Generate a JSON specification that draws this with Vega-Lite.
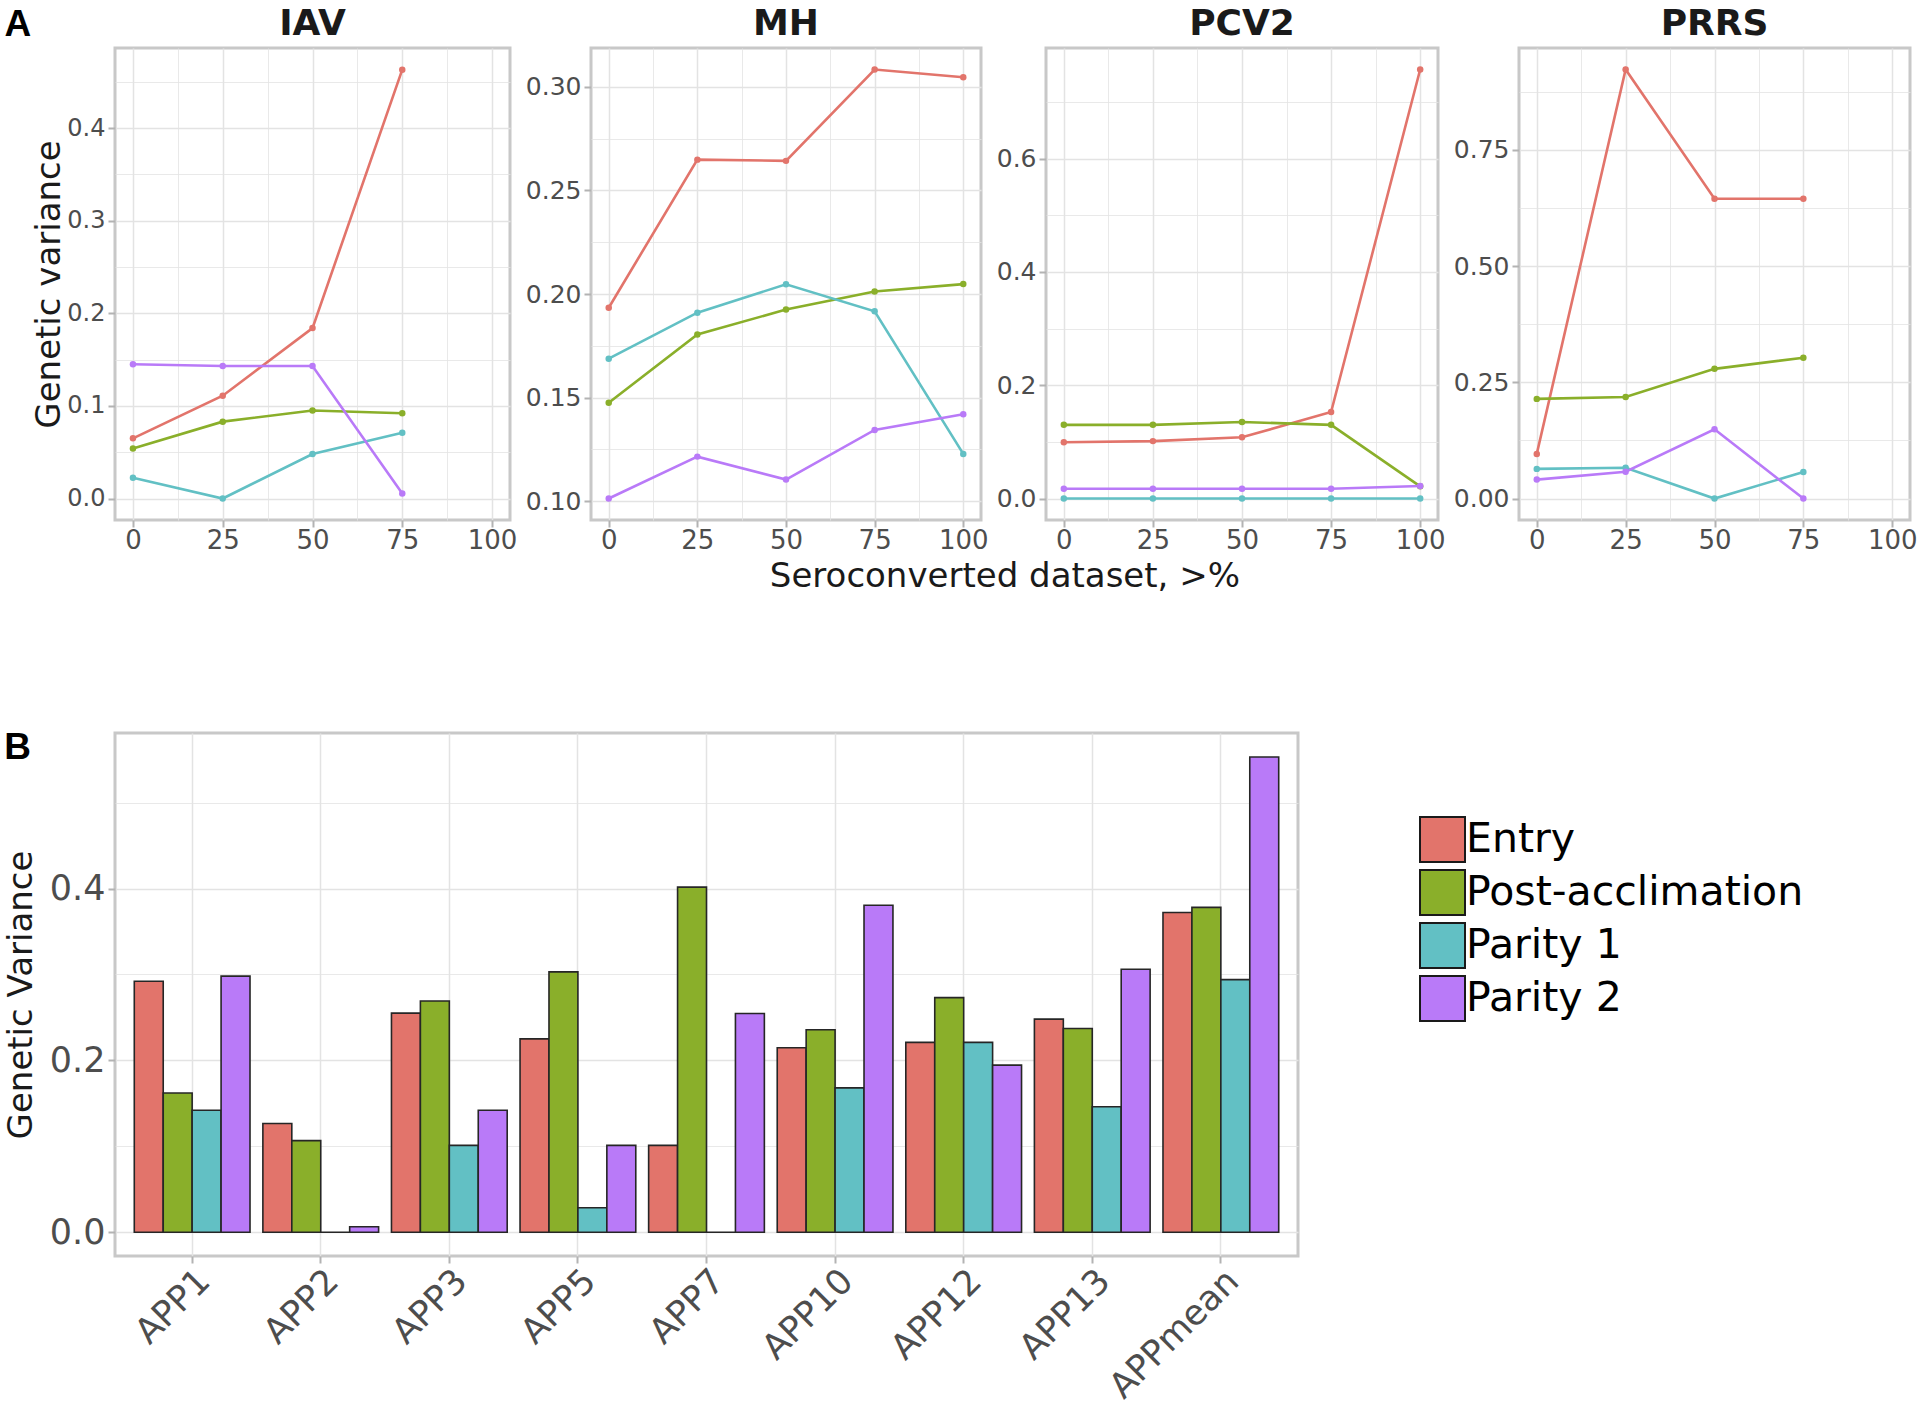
{
  "$schema": "https://vega.github.io/schema/vega-lite/v6.json",
  "background": "white",
  "padding": {"left": 2, "top": 4, "right": 0, "bottom": 0},
  "config": {
    "font": "DejaVu Sans",
    "view": {"stroke": "#C8C8C8", "strokeWidth": 3},
    "axis": {
      "domain": false,
      "tickColor": "#B3B3B3",
      "tickWidth": 2,
      "tickSize": 7,
      "labelColor": "#4D4D4D",
      "labelPadding": 3,
      "labelOverlap": false,
      "labelFlush": false,
      "titleColor": "#1A1A1A",
      "titleFontWeight": "normal",
      "gridColor": "#E3E3E3"
    },
    "title": {"color": "#1A1A1A"}
  },
  "datasets": {
    "lines": [
      {"panel": "IAV", "pct": 0, "stage": "Entry", "gv": 0.065},
      {"panel": "IAV", "pct": 25, "stage": "Entry", "gv": 0.111},
      {"panel": "IAV", "pct": 50, "stage": "Entry", "gv": 0.184},
      {"panel": "IAV", "pct": 75, "stage": "Entry", "gv": 0.463},
      {"panel": "IAV", "pct": 0, "stage": "Post-acclimation", "gv": 0.054},
      {"panel": "IAV", "pct": 25, "stage": "Post-acclimation", "gv": 0.083},
      {"panel": "IAV", "pct": 50, "stage": "Post-acclimation", "gv": 0.095},
      {"panel": "IAV", "pct": 75, "stage": "Post-acclimation", "gv": 0.092},
      {"panel": "IAV", "pct": 0, "stage": "Parity 1", "gv": 0.0225},
      {"panel": "IAV", "pct": 25, "stage": "Parity 1", "gv": 0.0},
      {"panel": "IAV", "pct": 50, "stage": "Parity 1", "gv": 0.048},
      {"panel": "IAV", "pct": 75, "stage": "Parity 1", "gv": 0.071},
      {"panel": "IAV", "pct": 0, "stage": "Parity 2", "gv": 0.145},
      {"panel": "IAV", "pct": 25, "stage": "Parity 2", "gv": 0.143},
      {"panel": "IAV", "pct": 50, "stage": "Parity 2", "gv": 0.143},
      {"panel": "IAV", "pct": 75, "stage": "Parity 2", "gv": 0.0055},
      {"panel": "MH", "pct": 0, "stage": "Entry", "gv": 0.1934},
      {"panel": "MH", "pct": 25, "stage": "Entry", "gv": 0.2649},
      {"panel": "MH", "pct": 50, "stage": "Entry", "gv": 0.2643},
      {"panel": "MH", "pct": 75, "stage": "Entry", "gv": 0.3084},
      {"panel": "MH", "pct": 100, "stage": "Entry", "gv": 0.3047},
      {"panel": "MH", "pct": 0, "stage": "Post-acclimation", "gv": 0.1475},
      {"panel": "MH", "pct": 25, "stage": "Post-acclimation", "gv": 0.1805},
      {"panel": "MH", "pct": 50, "stage": "Post-acclimation", "gv": 0.1925},
      {"panel": "MH", "pct": 75, "stage": "Post-acclimation", "gv": 0.2012},
      {"panel": "MH", "pct": 100, "stage": "Post-acclimation", "gv": 0.2048},
      {"panel": "MH", "pct": 0, "stage": "Parity 1", "gv": 0.1688},
      {"panel": "MH", "pct": 25, "stage": "Parity 1", "gv": 0.191},
      {"panel": "MH", "pct": 50, "stage": "Parity 1", "gv": 0.2047},
      {"panel": "MH", "pct": 75, "stage": "Parity 1", "gv": 0.1917},
      {"panel": "MH", "pct": 100, "stage": "Parity 1", "gv": 0.1228},
      {"panel": "MH", "pct": 0, "stage": "Parity 2", "gv": 0.1013},
      {"panel": "MH", "pct": 25, "stage": "Parity 2", "gv": 0.1215},
      {"panel": "MH", "pct": 50, "stage": "Parity 2", "gv": 0.1104},
      {"panel": "MH", "pct": 75, "stage": "Parity 2", "gv": 0.1344},
      {"panel": "MH", "pct": 100, "stage": "Parity 2", "gv": 0.142},
      {"panel": "PCV2", "pct": 0, "stage": "Entry", "gv": 0.0992},
      {"panel": "PCV2", "pct": 25, "stage": "Entry", "gv": 0.1013},
      {"panel": "PCV2", "pct": 50, "stage": "Entry", "gv": 0.108},
      {"panel": "PCV2", "pct": 75, "stage": "Entry", "gv": 0.1526},
      {"panel": "PCV2", "pct": 100, "stage": "Entry", "gv": 0.757},
      {"panel": "PCV2", "pct": 0, "stage": "Post-acclimation", "gv": 0.130},
      {"panel": "PCV2", "pct": 25, "stage": "Post-acclimation", "gv": 0.130},
      {"panel": "PCV2", "pct": 50, "stage": "Post-acclimation", "gv": 0.135},
      {"panel": "PCV2", "pct": 75, "stage": "Post-acclimation", "gv": 0.130},
      {"panel": "PCV2", "pct": 100, "stage": "Post-acclimation", "gv": 0.0215},
      {"panel": "PCV2", "pct": 0, "stage": "Parity 1", "gv": 0.0},
      {"panel": "PCV2", "pct": 25, "stage": "Parity 1", "gv": 0.0},
      {"panel": "PCV2", "pct": 50, "stage": "Parity 1", "gv": 0.0},
      {"panel": "PCV2", "pct": 75, "stage": "Parity 1", "gv": 0.0},
      {"panel": "PCV2", "pct": 100, "stage": "Parity 1", "gv": 0.0},
      {"panel": "PCV2", "pct": 0, "stage": "Parity 2", "gv": 0.0173},
      {"panel": "PCV2", "pct": 25, "stage": "Parity 2", "gv": 0.0173},
      {"panel": "PCV2", "pct": 50, "stage": "Parity 2", "gv": 0.0173},
      {"panel": "PCV2", "pct": 75, "stage": "Parity 2", "gv": 0.0173},
      {"panel": "PCV2", "pct": 100, "stage": "Parity 2", "gv": 0.022},
      {"panel": "PRRS", "pct": 0, "stage": "Entry", "gv": 0.096},
      {"panel": "PRRS", "pct": 25, "stage": "Entry", "gv": 0.9226},
      {"panel": "PRRS", "pct": 50, "stage": "Entry", "gv": 0.6446},
      {"panel": "PRRS", "pct": 75, "stage": "Entry", "gv": 0.6446},
      {"panel": "PRRS", "pct": 0, "stage": "Post-acclimation", "gv": 0.2143},
      {"panel": "PRRS", "pct": 25, "stage": "Post-acclimation", "gv": 0.2185},
      {"panel": "PRRS", "pct": 50, "stage": "Post-acclimation", "gv": 0.2789},
      {"panel": "PRRS", "pct": 75, "stage": "Post-acclimation", "gv": 0.3027},
      {"panel": "PRRS", "pct": 0, "stage": "Parity 1", "gv": 0.0638},
      {"panel": "PRRS", "pct": 25, "stage": "Parity 1", "gv": 0.0663},
      {"panel": "PRRS", "pct": 50, "stage": "Parity 1", "gv": 0.0},
      {"panel": "PRRS", "pct": 75, "stage": "Parity 1", "gv": 0.057},
      {"panel": "PRRS", "pct": 0, "stage": "Parity 2", "gv": 0.0408},
      {"panel": "PRRS", "pct": 25, "stage": "Parity 2", "gv": 0.0578},
      {"panel": "PRRS", "pct": 50, "stage": "Parity 2", "gv": 0.1488},
      {"panel": "PRRS", "pct": 75, "stage": "Parity 2", "gv": 0.0}
    ],
    "bars": [
      {"app": "APP1", "stage": "Entry", "gv": 0.292},
      {"app": "APP1", "stage": "Post-acclimation", "gv": 0.162},
      {"app": "APP1", "stage": "Parity 1", "gv": 0.142},
      {"app": "APP1", "stage": "Parity 2", "gv": 0.298},
      {"app": "APP2", "stage": "Entry", "gv": 0.1265},
      {"app": "APP2", "stage": "Post-acclimation", "gv": 0.1066},
      {"app": "APP2", "stage": "Parity 1", "gv": 0.0},
      {"app": "APP2", "stage": "Parity 2", "gv": 0.0063},
      {"app": "APP3", "stage": "Entry", "gv": 0.255},
      {"app": "APP3", "stage": "Post-acclimation", "gv": 0.269},
      {"app": "APP3", "stage": "Parity 1", "gv": 0.101},
      {"app": "APP3", "stage": "Parity 2", "gv": 0.142},
      {"app": "APP5", "stage": "Entry", "gv": 0.225},
      {"app": "APP5", "stage": "Post-acclimation", "gv": 0.303},
      {"app": "APP5", "stage": "Parity 1", "gv": 0.0285},
      {"app": "APP5", "stage": "Parity 2", "gv": 0.101},
      {"app": "APP7", "stage": "Entry", "gv": 0.101},
      {"app": "APP7", "stage": "Post-acclimation", "gv": 0.4016},
      {"app": "APP7", "stage": "Parity 1", "gv": 0.0},
      {"app": "APP7", "stage": "Parity 2", "gv": 0.2546},
      {"app": "APP10", "stage": "Entry", "gv": 0.2146},
      {"app": "APP10", "stage": "Post-acclimation", "gv": 0.2356},
      {"app": "APP10", "stage": "Parity 1", "gv": 0.168},
      {"app": "APP10", "stage": "Parity 2", "gv": 0.3806},
      {"app": "APP12", "stage": "Entry", "gv": 0.2209},
      {"app": "APP12", "stage": "Post-acclimation", "gv": 0.273},
      {"app": "APP12", "stage": "Parity 1", "gv": 0.2209},
      {"app": "APP12", "stage": "Parity 2", "gv": 0.1945},
      {"app": "APP13", "stage": "Entry", "gv": 0.248},
      {"app": "APP13", "stage": "Post-acclimation", "gv": 0.237},
      {"app": "APP13", "stage": "Parity 1", "gv": 0.146},
      {"app": "APP13", "stage": "Parity 2", "gv": 0.306},
      {"app": "APPmean", "stage": "Entry", "gv": 0.372},
      {"app": "APPmean", "stage": "Post-acclimation", "gv": 0.378},
      {"app": "APPmean", "stage": "Parity 1", "gv": 0.294},
      {"app": "APPmean", "stage": "Parity 2", "gv": 0.553}
    ]
  },
  "spacing": 133,
  "resolve": {"scale": {"x": "independent", "y": "independent", "color": "shared"}, "legend": {"color": "independent"}},
  "vconcat": [
    {
      "title": {"text": "A", "orient": "left", "anchor": "end", "angle": 0, "align": "left", "baseline": "top", "frame": "bounds", "offset": 0, "dy": 2, "font": "Liberation Sans", "fontSize": 37, "fontWeight": "bold", "color": "#000000"},
      "resolve": {"scale": {"x": "independent", "y": "independent"}},
      "vconcat": [
        {
          "data": {"name": "lines"},
          "spacing": 4,
          "resolve": {"scale": {"x": "independent", "y": "independent"}},
          "title": {"text": "Seroconverted dataset, >%", "orient": "bottom", "frame": "bounds", "anchor": "middle", "dx": 30, "fontSize": 34, "fontWeight": "normal", "offset": 5},
          "hconcat": [
            {
              "width": 395,
              "height": 472,
              "title": {"text": "IAV", "fontSize": 36, "fontWeight": "bold", "offset": 5},
              "transform": [{"filter": "datum.panel === 'IAV'"}],
              "encoding": {
                "x": {"field": "pct", "type": "quantitative", "scale": {"domain": [-5, 105], "nice": false, "zero": false},
                  "axis": {"title": null, "values": [0, 12.5, 25, 37.5, 50, 62.5, 75, 87.5, 100], "labelFontSize": 26, "labelPadding": 0,
                    "labelExpr": "datum.value % 25 === 0 ? datum.label : ''",
                    "gridWidth": {"condition": {"test": "datum.value % 25 === 0", "value": 1.5}, "value": 0.8},
                    "tickOpacity": {"condition": {"test": "datum.value % 25 === 0", "value": 1}, "value": 0}}},
                "y": {"field": "gv", "type": "quantitative", "scale": {"domain": [-0.0232, 0.4864], "nice": false, "zero": false},
                  "axis": {"title": "Genetic variance", "titleFontSize": 34, "titlePadding": 0, "labelFontSize": 24,
                    "values": [0, 0.05, 0.1, 0.15, 0.2, 0.25, 0.3, 0.35, 0.4, 0.45],
                    "labelExpr": "abs(datum.value*10 - round(datum.value*10)) < 1e-6 ? format(datum.value, '.1f') : ''",
                    "gridWidth": {"condition": {"test": "abs(datum.value*10 - round(datum.value*10)) < 1e-6", "value": 1.5}, "value": 0.8},
                    "tickOpacity": {"condition": {"test": "abs(datum.value*10 - round(datum.value*10)) < 1e-6", "value": 1}, "value": 0}}},
                "color": {"field": "stage", "type": "nominal", "legend": null,
                  "scale": {"domain": ["Entry", "Post-acclimation", "Parity 1", "Parity 2"], "range": ["#E2746B", "#8AAF2A", "#62C0C4", "#B97AF8"]}}
              },
              "layer": [
                {"mark": {"type": "line", "strokeWidth": 2.6}},
                {"mark": {"type": "circle", "size": 42, "opacity": 1}}
              ]
            },
            {
              "width": 390,
              "height": 472,
              "title": {"text": "MH", "fontSize": 36, "fontWeight": "bold", "offset": 5},
              "transform": [{"filter": "datum.panel === 'MH'"}],
              "encoding": {
                "x": {"field": "pct", "type": "quantitative", "scale": {"domain": [-5, 105], "nice": false, "zero": false},
                  "axis": {"title": null, "values": [0, 12.5, 25, 37.5, 50, 62.5, 75, 87.5, 100], "labelFontSize": 26, "labelPadding": 0,
                    "labelExpr": "datum.value % 25 === 0 ? datum.label : ''",
                    "gridWidth": {"condition": {"test": "datum.value % 25 === 0", "value": 1.5}, "value": 0.8},
                    "tickOpacity": {"condition": {"test": "datum.value % 25 === 0", "value": 1}, "value": 0}}},
                "y": {"field": "gv", "type": "quantitative", "scale": {"domain": [0.0909, 0.3188], "nice": false, "zero": false},
                  "axis": {"title": null, "labelFontSize": 25,
                    "values": [0.1, 0.125, 0.15, 0.175, 0.2, 0.225, 0.25, 0.275, 0.3],
                    "labelExpr": "abs(datum.value*20 - round(datum.value*20)) < 1e-6 ? format(datum.value, '.2f') : ''",
                    "gridWidth": {"condition": {"test": "abs(datum.value*20 - round(datum.value*20)) < 1e-6", "value": 1.5}, "value": 0.8},
                    "tickOpacity": {"condition": {"test": "abs(datum.value*20 - round(datum.value*20)) < 1e-6", "value": 1}, "value": 0}}},
                "color": {"field": "stage", "type": "nominal", "legend": null}
              },
              "layer": [
                {"mark": {"type": "line", "strokeWidth": 2.6}},
                {"mark": {"type": "circle", "size": 42, "opacity": 1}}
              ]
            },
            {
              "width": 392,
              "height": 472,
              "title": {"text": "PCV2", "fontSize": 36, "fontWeight": "bold", "offset": 5},
              "transform": [{"filter": "datum.panel === 'PCV2'"}],
              "encoding": {
                "x": {"field": "pct", "type": "quantitative", "scale": {"domain": [-5, 105], "nice": false, "zero": false},
                  "axis": {"title": null, "values": [0, 12.5, 25, 37.5, 50, 62.5, 75, 87.5, 100], "labelFontSize": 26, "labelPadding": 0,
                    "labelExpr": "datum.value % 25 === 0 ? datum.label : ''",
                    "gridWidth": {"condition": {"test": "datum.value % 25 === 0", "value": 1.5}, "value": 0.8},
                    "tickOpacity": {"condition": {"test": "datum.value % 25 === 0", "value": 1}, "value": 0}}},
                "y": {"field": "gv", "type": "quantitative", "scale": {"domain": [-0.0379, 0.795], "nice": false, "zero": false},
                  "axis": {"title": null, "labelFontSize": 25,
                    "values": [0, 0.1, 0.2, 0.3, 0.4, 0.5, 0.6, 0.7],
                    "labelExpr": "abs(datum.value*5 - round(datum.value*5)) < 1e-6 ? format(datum.value, '.1f') : ''",
                    "gridWidth": {"condition": {"test": "abs(datum.value*5 - round(datum.value*5)) < 1e-6", "value": 1.5}, "value": 0.8},
                    "tickOpacity": {"condition": {"test": "abs(datum.value*5 - round(datum.value*5)) < 1e-6", "value": 1}, "value": 0}}},
                "color": {"field": "stage", "type": "nominal", "legend": null}
              },
              "layer": [
                {"mark": {"type": "line", "strokeWidth": 2.6}},
                {"mark": {"type": "circle", "size": 42, "opacity": 1}}
              ]
            },
            {
              "width": 391,
              "height": 472,
              "title": {"text": "PRRS", "fontSize": 36, "fontWeight": "bold", "offset": 5},
              "transform": [{"filter": "datum.panel === 'PRRS'"}],
              "encoding": {
                "x": {"field": "pct", "type": "quantitative", "scale": {"domain": [-5, 105], "nice": false, "zero": false},
                  "axis": {"title": null, "values": [0, 12.5, 25, 37.5, 50, 62.5, 75, 87.5, 100], "labelFontSize": 26, "labelPadding": 0,
                    "labelExpr": "datum.value % 25 === 0 ? datum.label : ''",
                    "gridWidth": {"condition": {"test": "datum.value % 25 === 0", "value": 1.5}, "value": 0.8},
                    "tickOpacity": {"condition": {"test": "datum.value % 25 === 0", "value": 1}, "value": 0}}},
                "y": {"field": "gv", "type": "quantitative", "scale": {"domain": [-0.0461, 0.9687], "nice": false, "zero": false},
                  "axis": {"title": null, "labelFontSize": 25,
                    "values": [0, 0.125, 0.25, 0.375, 0.5, 0.625, 0.75, 0.875],
                    "labelExpr": "abs(datum.value*4 - round(datum.value*4)) < 1e-6 ? format(datum.value, '.2f') : ''",
                    "gridWidth": {"condition": {"test": "abs(datum.value*4 - round(datum.value*4)) < 1e-6", "value": 1.5}, "value": 0.8},
                    "tickOpacity": {"condition": {"test": "abs(datum.value*4 - round(datum.value*4)) < 1e-6", "value": 1}, "value": 0}}},
                "color": {"field": "stage", "type": "nominal", "legend": null}
              },
              "layer": [
                {"mark": {"type": "line", "strokeWidth": 2.6}},
                {"mark": {"type": "circle", "size": 42, "opacity": 1}}
              ]
            }
          ]
        }
      ]
    },
    {
      "width": 1183,
      "height": 523,
      "data": {"name": "bars"},
      "title": {"text": "B", "anchor": "start", "frame": "bounds", "font": "Liberation Sans", "fontSize": 37, "fontWeight": "bold", "color": "#000000", "offset": 4, "dy": 38},
      "mark": {"type": "bar", "stroke": "#262626", "strokeWidth": 1.6},
      "encoding": {
        "x": {"field": "app", "type": "nominal",
          "sort": ["APP1", "APP2", "APP3", "APP5", "APP7", "APP10", "APP12", "APP13", "APPmean"],
          "scale": {"paddingInner": 0.1, "paddingOuter": 0.15},
          "axis": {"title": null, "labelAngle": -45, "labelAlign": "right", "labelBaseline": "top", "labelFontSize": 35, "labelPadding": 0, "grid": true, "gridWidth": 1.5, "bandPosition": 0.5}},
        "xOffset": {"field": "stage", "sort": ["Entry", "Post-acclimation", "Parity 1", "Parity 2"]},
        "y": {"field": "gv", "type": "quantitative", "scale": {"domain": [-0.0277, 0.581], "nice": false, "zero": false},
          "axis": {"title": "Genetic Variance", "titleFontSize": 34, "titlePadding": 11, "labelFontSize": 35,
            "values": [0, 0.1, 0.2, 0.3, 0.4, 0.5],
            "labelExpr": "abs(datum.value*5 - round(datum.value*5)) < 1e-6 ? format(datum.value, '.1f') : ''",
            "gridWidth": {"condition": {"test": "abs(datum.value*5 - round(datum.value*5)) < 1e-6", "value": 1.5}, "value": 0.8},
            "tickOpacity": {"condition": {"test": "abs(datum.value*5 - round(datum.value*5)) < 1e-6", "value": 1}, "value": 0}}},
        "color": {"field": "stage", "type": "nominal",
          "scale": {"domain": ["Entry", "Post-acclimation", "Parity 1", "Parity 2"], "range": ["#E2746B", "#8AAF2A", "#62C0C4", "#B97AF8"]},
          "legend": {"orient": "none", "legendX": 1304, "legendY": 83, "title": null, "padding": 0,
            "symbolType": "square", "symbolSize": 2025, "symbolStrokeColor": "#1A1A1A", "symbolStrokeWidth": 2, "symbolOpacity": 1,
            "labelFont": "DejaVu Sans", "labelFontSize": 41, "labelColor": "#000000", "labelOffset": 0, "rowPadding": 0, "labelLimit": 600}}
      }
    }
  ]
}
